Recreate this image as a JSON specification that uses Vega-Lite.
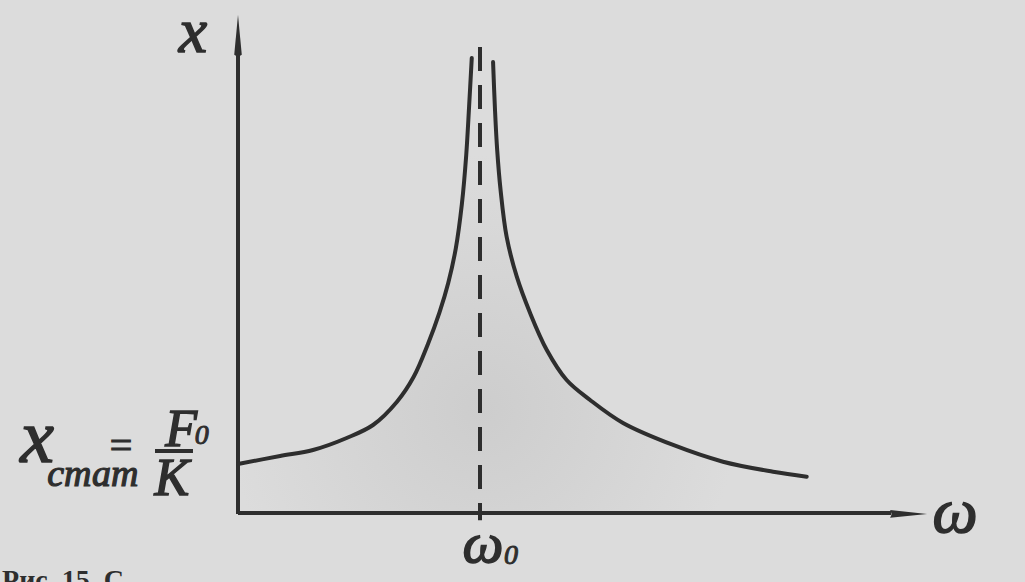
{
  "$schema": "https://vega.github.io/schema/vega-lite/v6.json",
  "width": 1025,
  "height": 582,
  "autosize": "none",
  "padding": 0,
  "background": "#dcdcdc",
  "config": {"view": {"stroke": null}},
  "datasets": {
    "axes": [
      {"part": "omega", "w": 0, "v": 0},
      {"part": "omega", "w": 2.70, "v": 0},
      {"part": "x", "w": 0, "v": -0.02},
      {"part": "x", "w": 0, "v": 9.45}
    ],
    "arrowUp": [{"w": 0, "v": 9.735}],
    "arrowRight": [{"w": 2.771, "v": -0.02}],
    "curve": [
      {"branch": "left", "w": 0.0, "v": 1.0},
      {"branch": "left", "w": 0.174, "v": 1.163},
      {"branch": "left", "w": 0.310, "v": 1.286},
      {"branch": "left", "w": 0.449, "v": 1.531},
      {"branch": "left", "w": 0.558, "v": 1.796},
      {"branch": "left", "w": 0.657, "v": 2.271},
      {"branch": "left", "w": 0.726, "v": 2.78},
      {"branch": "left", "w": 0.785, "v": 3.45},
      {"branch": "left", "w": 0.833, "v": 4.10},
      {"branch": "left", "w": 0.869, "v": 4.70},
      {"branch": "left", "w": 0.900, "v": 5.40},
      {"branch": "left", "w": 0.925, "v": 6.30},
      {"branch": "left", "w": 0.943, "v": 7.30},
      {"branch": "left", "w": 0.955, "v": 8.30},
      {"branch": "left", "w": 0.966, "v": 9.286},
      {"branch": "right", "w": 1.054, "v": 9.204},
      {"branch": "right", "w": 1.062, "v": 8.224},
      {"branch": "right", "w": 1.071, "v": 7.408},
      {"branch": "right", "w": 1.085, "v": 6.592},
      {"branch": "right", "w": 1.110, "v": 5.639},
      {"branch": "right", "w": 1.152, "v": 4.822},
      {"branch": "right", "w": 1.207, "v": 4.082},
      {"branch": "right", "w": 1.276, "v": 3.327},
      {"branch": "right", "w": 1.358, "v": 2.714},
      {"branch": "right", "w": 1.455, "v": 2.306},
      {"branch": "right", "w": 1.591, "v": 1.837},
      {"branch": "right", "w": 1.798, "v": 1.388},
      {"branch": "right", "w": 2.004, "v": 1.047},
      {"branch": "right", "w": 2.211, "v": 0.843},
      {"branch": "right", "w": 2.350, "v": 0.741}
    ],
    "dash": [
      {"w": 1.0, "v": 9.51},
      {"w": 1.0, "v": -0.15}
    ],
    "topLetter": [{"t": "x", "w": -0.186, "v": 9.408}],
    "leftLetter": [{"t": "x", "w": -0.83, "v": 1.041}],
    "omegaRight": [{"t": "ω", "w": 2.963, "v": -0.388}],
    "omegaBottom": [{"t": "ω", "w": 1.012, "v": -1.0}],
    "subs": [
      {"t": "0", "w": 1.128, "v": -1.041},
      {"t": "0", "w": -0.150, "v": 1.41}
    ],
    "stat": [{"t": "стат", "w": -0.600, "v": 0.55}],
    "eq": [{"t": "=", "w": -0.483, "v": 1.347}],
    "fk": [
      {"t": "F", "w": -0.235, "v": 1.37},
      {"t": "K", "w": -0.273, "v": 0.367}
    ],
    "bar": [
      {"w": -0.343, "v": 1.265},
      {"w": -0.186, "v": 1.265}
    ],
    "caption": [{"t": "Рис. 15. С", "w": -0.975, "v": -1.551}]
  },
  "encoding": {
    "x": {"field": "w", "type": "quantitative", "axis": null,
          "scale": {"domain": [-0.9835, 3.2521], "nice": false, "zero": false}},
    "y": {"field": "v", "type": "quantitative", "axis": null,
          "scale": {"domain": [-1.408, 10.469], "nice": false, "zero": false}}
  },
  "layer": [
    {
      "data": {"name": "curve"},
      "mark": {"type": "area", "interpolate": "catmull-rom", "opacity": 1,
               "fill": {"gradient": "radial", "x1": 0.43, "y1": 0.72, "r1": 0, "x2": 0.43, "y2": 0.72, "r2": 0.45,
                        "stops": [{"offset": 0, "color": "#cdcdcd"}, {"offset": 1, "color": "#dcdcdc"}]}}
    },
    {
      "data": {"name": "axes"},
      "mark": {"type": "line", "color": "#2e2e2e", "strokeWidth": 4},
      "encoding": {"detail": {"field": "part"}}
    },
    {
      "data": {"name": "arrowUp"},
      "mark": {"type": "point", "filled": true, "color": "#2e2e2e", "opacity": 1,
               "shape": "M0,-1L0.18,0.9L0,1L-0.18,0.9Z", "size": 1764}
    },
    {
      "data": {"name": "arrowRight"},
      "mark": {"type": "point", "filled": true, "color": "#2e2e2e", "opacity": 1,
               "shape": "M1,0L-1,-0.21L-0.9,0L-1,0.21Z", "size": 1369}
    },
    {
      "data": {"name": "curve"},
      "mark": {"type": "line", "color": "#2e2e2e", "strokeWidth": 4, "interpolate": "catmull-rom", "strokeCap": "round"},
      "encoding": {"detail": {"field": "branch"}}
    },
    {
      "data": {"name": "dash"},
      "mark": {"type": "line", "color": "#2e2e2e", "strokeWidth": 4, "strokeDash": [24, 14]},
      "encoding": {"order": {"field": "v", "type": "quantitative", "sort": "descending"}}
    },
    {
      "data": {"name": "bar"},
      "mark": {"type": "line", "color": "#2e2e2e", "strokeWidth": 4}
    },
    {
      "data": {"name": "topLetter"},
      "mark": {"type": "text", "font": "Liberation Serif", "fontStyle": "italic", "stroke": "#2e2e2e", "strokeWidth": 1.5,
               "fontSize": 64, "color": "#2e2e2e", "align": "center", "baseline": "alphabetic"},
      "encoding": {"text": {"field": "t"}}
    },
    {
      "data": {"name": "leftLetter"},
      "mark": {"type": "text", "font": "Liberation Serif", "fontStyle": "italic", "stroke": "#2e2e2e", "strokeWidth": 1.5,
               "fontSize": 76, "color": "#2e2e2e", "align": "center", "baseline": "alphabetic"},
      "encoding": {"text": {"field": "t"}}
    },
    {
      "data": {"name": "omegaRight"},
      "mark": {"type": "text", "font": "Liberation Serif", "fontStyle": "italic", "stroke": "#2e2e2e", "strokeWidth": 1.5,
               "fontSize": 64, "color": "#2e2e2e", "align": "center", "baseline": "alphabetic"},
      "encoding": {"text": {"field": "t"}}
    },
    {
      "data": {"name": "omegaBottom"},
      "mark": {"type": "text", "font": "Liberation Serif", "fontStyle": "italic", "stroke": "#2e2e2e", "strokeWidth": 1.5,
               "fontSize": 58, "color": "#2e2e2e", "align": "center", "baseline": "alphabetic"},
      "encoding": {"text": {"field": "t"}}
    },
    {
      "data": {"name": "subs"},
      "mark": {"type": "text", "font": "Liberation Serif", "fontStyle": "italic", "stroke": "#2e2e2e", "strokeWidth": 1,
               "fontSize": 28, "color": "#2e2e2e", "align": "center", "baseline": "alphabetic"},
      "encoding": {"text": {"field": "t"}}
    },
    {
      "data": {"name": "stat"},
      "mark": {"type": "text", "font": "Liberation Serif", "fontStyle": "italic", "stroke": "#2e2e2e", "strokeWidth": 1.2,
               "fontSize": 38, "color": "#2e2e2e", "align": "center", "baseline": "alphabetic"},
      "encoding": {"text": {"field": "t"}}
    },
    {
      "data": {"name": "eq"},
      "mark": {"type": "text", "font": "Liberation Serif", "stroke": "#2e2e2e", "strokeWidth": 1.2,
               "fontSize": 40, "color": "#2e2e2e", "align": "center", "baseline": "middle"},
      "encoding": {"text": {"field": "t"}}
    },
    {
      "data": {"name": "fk"},
      "mark": {"type": "text", "font": "Liberation Serif", "fontStyle": "italic", "stroke": "#2e2e2e", "strokeWidth": 1.5,
               "fontSize": 52, "color": "#2e2e2e", "align": "center", "baseline": "alphabetic"},
      "encoding": {"text": {"field": "t"}}
    },
    {
      "data": {"name": "caption"},
      "mark": {"type": "text", "font": "Liberation Serif", "fontWeight": "bold",
               "fontSize": 28, "color": "#2e2e2e", "align": "left", "baseline": "alphabetic"},
      "encoding": {"text": {"field": "t"}}
    }
  ]
}
